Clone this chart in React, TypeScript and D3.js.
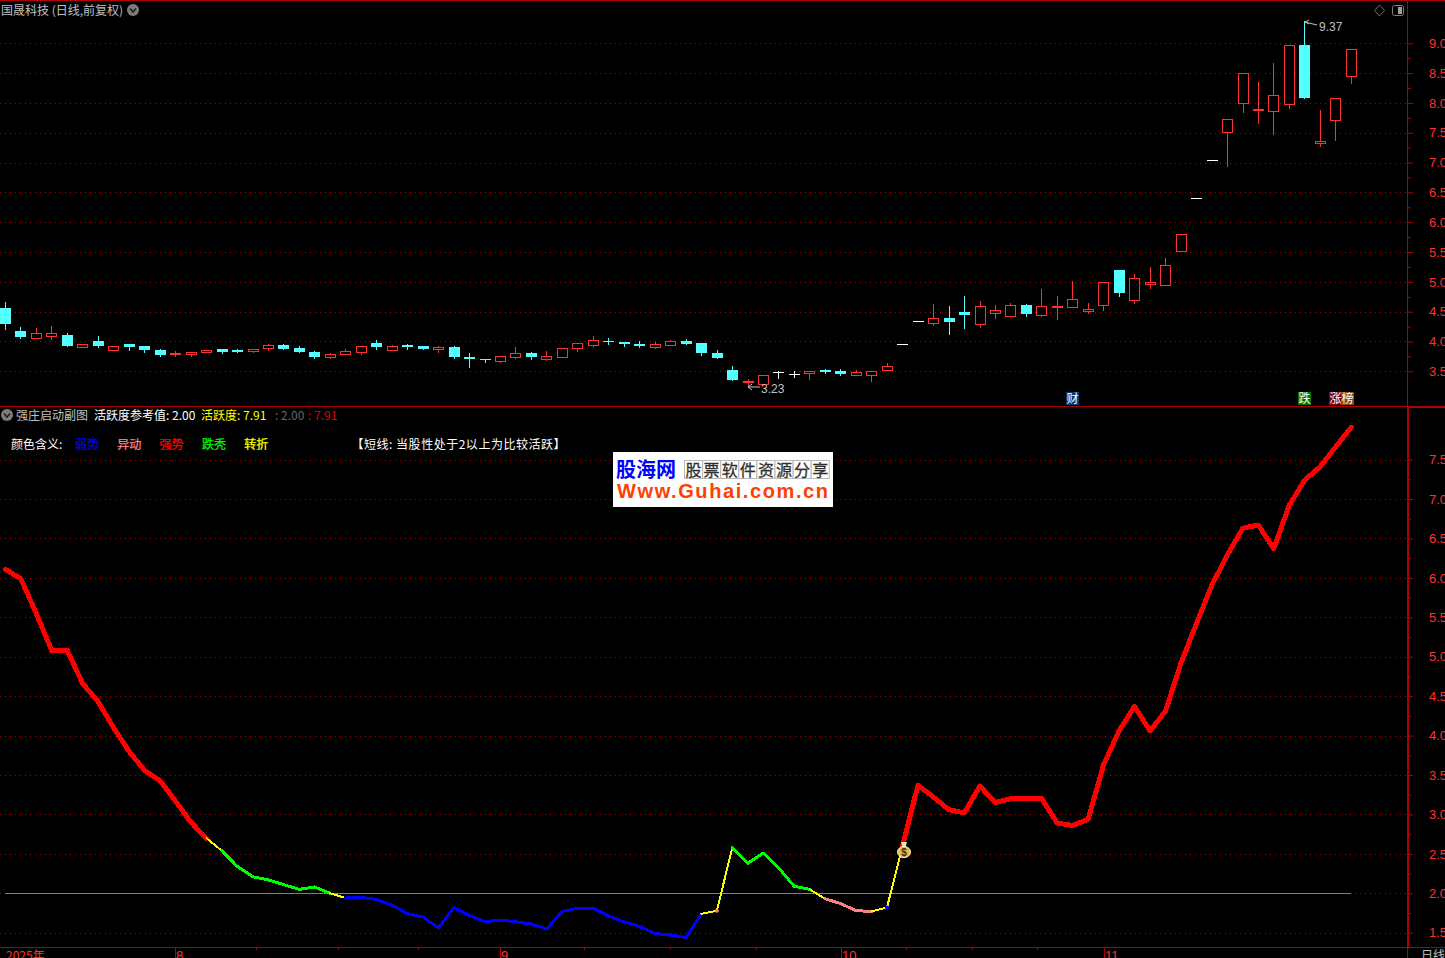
import { useEffect, useRef } from 'react';
import * as d3 from 'd3';

const opens = [
  4.56, 4.18, 4.06, 4.09, 4.11, 3.91, 4.01, 3.86, 3.96, 3.92,
  3.86, 3.80, 3.79, 3.82, 3.87, 3.86, 3.84, 3.89, 3.94, 3.89,
  3.82, 3.74, 3.79, 3.82, 3.97, 3.86, 3.94, 3.92, 3.87, 3.91,
  3.74, 3.70, 3.67, 3.74, 3.81, 3.71, 3.74, 3.89, 3.94, 4.00,
  3.99, 3.96, 3.91, 3.94, 4.01, 3.97, 3.81, 3.52, 3.33, 3.29,
  3.49, 3.46, 3.47, 3.52, 3.50, 3.44, 3.44, 3.52, 3.95, 4.34,
  4.31, 4.39, 4.49, 4.30, 4.47, 4.43, 4.61, 4.45, 4.58, 4.58,
  4.51, 4.62, 5.20, 4.70, 4.96, 4.95, 5.51, 6.41, 7.04, 7.51,
  8.00, 7.89, 7.86, 7.99, 8.97, 7.32, 7.71, 8.46,
];
const closes = [
  4.29, 4.08, 4.14, 4.14, 3.92, 3.96, 3.92, 3.92, 3.91, 3.86,
  3.77, 3.81, 3.82, 3.86, 3.82, 3.82, 3.87, 3.94, 3.87, 3.82,
  3.74, 3.79, 3.84, 3.92, 3.91, 3.92, 3.91, 3.87, 3.91, 3.74,
  3.71, 3.69, 3.76, 3.81, 3.74, 3.76, 3.89, 3.97, 4.02, 3.99,
  3.96, 3.92, 3.96, 4.01, 3.96, 3.81, 3.72, 3.36, 3.34, 3.44,
  3.49, 3.46, 3.50, 3.49, 3.45, 3.49, 3.50, 3.59, 3.95, 4.34,
  4.39, 4.33, 4.44, 4.59, 4.52, 4.61, 4.46, 4.59, 4.60, 4.71,
  4.54, 4.99, 4.81, 5.06, 5.00, 5.28, 5.81, 6.41, 7.04, 7.73,
  8.50, 7.90, 8.14, 8.97, 8.09, 7.36, 8.09, 8.90,
];
const highs = [
  4.66, 4.24, 4.23, 4.26, 4.14, 3.96, 4.09, 3.92, 3.96, 3.92,
  3.87, 3.84, 3.82, 3.86, 3.87, 3.87, 3.87, 3.96, 3.96, 3.92,
  3.84, 3.81, 3.87, 3.92, 4.02, 3.94, 3.96, 3.92, 3.92, 3.92,
  3.81, 3.70, 3.76, 3.91, 3.82, 3.84, 3.89, 3.97, 4.09, 4.06,
  3.99, 4.01, 3.99, 4.02, 4.04, 3.97, 3.86, 3.59, 3.37, 3.44,
  3.50, 3.50, 3.50, 3.54, 3.54, 3.52, 3.50, 3.64, 3.95, 4.34,
  4.63, 4.59, 4.76, 4.68, 4.61, 4.65, 4.63, 4.88, 4.76, 5.01,
  4.65, 4.99, 5.20, 5.13, 5.25, 5.40, 5.81, 6.41, 7.04, 7.73,
  8.50, 8.35, 8.67, 8.97, 9.37, 7.88, 8.09, 8.90,
];
const lows = [
  4.21, 4.06, 4.06, 4.04, 3.92, 3.91, 3.91, 3.86, 3.86, 3.82,
  3.76, 3.76, 3.76, 3.82, 3.81, 3.82, 3.82, 3.86, 3.87, 3.82,
  3.72, 3.72, 3.79, 3.79, 3.87, 3.86, 3.87, 3.87, 3.82, 3.72,
  3.57, 3.66, 3.66, 3.72, 3.71, 3.69, 3.74, 3.84, 3.92, 3.96,
  3.92, 3.91, 3.89, 3.94, 3.96, 3.77, 3.72, 3.36, 3.23, 3.29,
  3.39, 3.40, 3.37, 3.47, 3.44, 3.44, 3.34, 3.52, 3.95, 4.34,
  4.28, 4.13, 4.23, 4.24, 4.39, 4.43, 4.43, 4.43, 4.38, 4.58,
  4.48, 4.53, 4.76, 4.65, 4.90, 4.95, 5.51, 6.41, 7.04, 6.95,
  7.84, 7.67, 7.48, 7.92, 8.09, 7.27, 7.38, 8.33,
];

const activity = [
  6.11, 5.99, 5.55, 5.08, 5.08, 4.66, 4.43, 4.10, 3.80, 3.56,
  3.43, 3.17, 2.90, 2.70, 2.54, 2.34, 2.21, 2.17, 2.11, 2.05,
  2.08, 2.00, 1.94, 1.95, 1.92, 1.85, 1.74, 1.70, 1.56, 1.82,
  1.72, 1.64, 1.66, 1.64, 1.61, 1.55, 1.77, 1.81, 1.81, 1.71,
  1.64, 1.58, 1.49, 1.47, 1.44, 1.74, 1.78, 2.58, 2.38, 2.51,
  2.32, 2.09, 2.05, 1.93, 1.87, 1.78, 1.77, 1.82, 2.60, 3.37,
  3.22, 3.06, 3.02, 3.36, 3.15, 3.20, 3.20, 3.20, 2.89, 2.86,
  2.94, 3.63, 4.06, 4.37, 4.06, 4.31, 4.92, 5.42, 5.91, 6.29,
  6.63, 6.67, 6.37, 6.92, 7.24, 7.41, 7.66, 7.91,
];

// first point, last point, state
const lineRuns: Array<[number, number, string]> = [
  [0, 13, 'strong'], [13, 14, 'turn'], [14, 21, 'fall'], [21, 22, 'turn'],
  [22, 45, 'weak'], [45, 47, 'turn'], [47, 52, 'fall'], [52, 53, 'turn'],
  [53, 56, 'odd'], [56, 58, 'turn'], [58, 87, 'strong'],
];
const lineDots: Array<[number, string]> = [[46, 'odd'], [57, 'weak']];

const priceTicks = [3.5, 4, 4.5, 5, 5.5, 6, 6.5, 7, 7.5, 8, 8.5, 9];
const priceMinorTicks = [3.75, 4.25, 4.75, 5.25, 5.75, 6.25, 6.75, 7.25, 7.75, 8.25, 8.75];
const activityTicks = [1.5, 2, 2.5, 3, 3.5, 4, 4.5, 5, 5.5, 6, 6.5, 7, 7.5];
const activityMinorTicks = [1.75, 2.25, 2.75, 3.25, 3.75, 4.25, 4.75, 5.25, 5.75, 6.25, 6.75, 7.25];

const monthIndex = [11, 32, 54, 71];
const monthLabels = ['8', '9', '10', '11'];
const dateMinorIndex = [16.2, 21.5, 26.7, 37.4, 43, 48.5, 58.2, 62.5, 66.7];

const legendNames = ['弱势', '异动', '强势', '跌秃', '转折'];
const legendStates = ['weak', 'odd', 'strong', 'fall', 'turn'];
const shareWords = ['股', '票', '软', '件', '资', '源', '分', '享'];

const stateColor: Record<string, string> = {
  weak: '#0000ff', odd: '#ff8080', strong: '#ff0000', fall: '#00ff00', turn: '#ffff00',
};
const stateWidth: Record<string, number> = { weak: 3, odd: 3, strong: 5, fall: 3, turn: 2 };

const RED = '#ff3232';
const CYAN = '#54ffff';
const AXIS = '#b00000';
const GRID = '#b80000';
const CJK = '"Noto Sans CJK SC", "Liberation Sans", sans-serif';

export default function App() {
  const svgRef = useRef<SVGSVGElement>(null);

  useEffect(() => {
    document.body.style.margin = '0';
    document.body.style.background = '#000';
    if (!svgRef.current) return;

    const width = 1445;
    const height = 958;
    const axisX = 1408;

    const svg = d3.select(svgRef.current);
    svg.selectAll('*').remove();
    svg.append('rect').attr('width', width).attr('height', height).attr('fill', '#000');

    const x = d3.scaleLinear().domain([0, 87]).range([5.3, 1351.1]);
    const yPrice = d3.scaleLinear().domain([3.5, 9]).range([371.3, 43.3]);
    const yActivity = d3.scaleLinear().domain([2, 7.5]).range([893.3, 459.6]);

    const txt = (tx: number, ty: number, s: string, fill: string, size = 12, weight = 'normal') =>
      svg.append('text')
        .attr('x', tx).attr('y', ty)
        .attr('fill', fill)
        .attr('font-size', size)
        .attr('font-weight', weight)
        .attr('font-family', CJK)
        .attr('xml:space', 'preserve')
        .text(s);

    // grid lines
    const drawGrid = (ticks: number[], y: d3.ScaleLinear<number, number>) => {
      svg.append('g').selectAll('line').data(ticks).enter().append('line')
        .attr('x1', 0).attr('x2', axisX)
        .attr('y1', d => Math.round(y(d)) + 0.5)
        .attr('y2', d => Math.round(y(d)) + 0.5)
        .attr('stroke', GRID)
        .attr('stroke-dasharray', '1 4');
    };
    drawGrid(priceTicks, yPrice);
    drawGrid(activityTicks, yActivity);

    // right axes
    const drawAxis = (ticks: number[], minor: number[], y: d3.ScaleLinear<number, number>) => {
      svg.append('g')
        .attr('transform', `translate(${axisX},0)`)
        .call(d3.axisRight(y).tickValues(minor).tickSize(3).tickFormat(() => ''))
        .call(g => g.select('.domain').remove())
        .call(g => g.selectAll('.tick line').attr('stroke', AXIS));
      svg.append('g')
        .attr('transform', `translate(${axisX},0)`)
        .call(d3.axisRight(y).tickValues(ticks).tickSize(5).tickPadding(16).tickFormat(d3.format('.1f') as any))
        .call(g => g.select('.domain').remove())
        .call(g => g.selectAll('.tick line').attr('stroke', AXIS))
        .call(g => g.selectAll('.tick text')
          .attr('fill', RED)
          .attr('font-size', 13)
          .attr('font-family', '"Liberation Sans", sans-serif'));
    };
    drawAxis(priceTicks, priceMinorTicks, yPrice);
    drawAxis(activityTicks, activityMinorTicks, yActivity);

    // frame
    const frame = svg.append('g').attr('stroke', AXIS).attr('shape-rendering', 'crispEdges');
    frame.append('line').attr('x1', 0).attr('x2', width).attr('y1', 0.5).attr('y2', 0.5);
    frame.append('line').attr('x1', 0).attr('x2', width).attr('y1', 406.5).attr('y2', 406.5);
    frame.append('line').attr('x1', axisX).attr('x2', width).attr('y1', 407.5).attr('y2', 407.5);
    frame.append('line').attr('x1', 0).attr('x2', width).attr('y1', 947.5).attr('y2', 947.5);
    frame.append('line').attr('x1', 1407.5).attr('x2', 1407.5).attr('y1', 0).attr('y2', height);
    frame.append('line').attr('x1', 1408.5).attr('x2', 1408.5).attr('y1', 407).attr('y2', 947);

    // candles
    const candles = svg.append('g').attr('shape-rendering', 'crispEdges');
    opens.forEach((open, i) => {
      const close = closes[i];
      const left = Math.round(x(i) - 5.3);
      const mid = left + 5.5;
      const color = close === open ? '#ffffff' : close > open ? RED : CYAN;
      const top = Math.round(yPrice(Math.max(open, close)));
      const bottom = Math.round(yPrice(Math.min(open, close)));
      candles.append('line')
        .attr('x1', mid).attr('x2', mid)
        .attr('y1', Math.round(yPrice(highs[i]))).attr('y2', Math.round(yPrice(lows[i])) + 1)
        .attr('stroke', color);
      if (close === open) {
        candles.append('line')
          .attr('x1', left).attr('x2', left + 11)
          .attr('y1', top + 0.5).attr('y2', top + 0.5)
          .attr('stroke', color);
      } else if (close > open) {
        candles.append('rect')
          .attr('x', left + 0.5).attr('y', top + 0.5)
          .attr('width', 10).attr('height', Math.max(bottom - top, 1))
          .attr('fill', '#000').attr('stroke', color);
      } else {
        candles.append('rect')
          .attr('x', left).attr('y', top)
          .attr('width', 11).attr('height', Math.max(bottom - top, 1))
          .attr('fill', color);
      }
    });

    // high / low notes
    const note = svg.append('g').attr('stroke', '#c0c0c0').attr('fill', 'none');
    note.append('path').attr('d', 'M1305 22 L1309 20 M1305 22 L1309 24 M1305 22 L1317 25');
    txt(1319, 31, '9.37', '#c0c0c0', 12).attr('font-family', '"Liberation Sans", sans-serif');
    note.append('path').attr('d', 'M748 387 L752 384 M748 387 L752 390 M748 387 L760 387');
    txt(761, 393, '3.23', '#c0c0c0', 12).attr('font-family', '"Liberation Sans", sans-serif');

    // event tags
    const tag = (tx: number, s: string, fill: string) => {
      svg.append('rect').attr('x', tx).attr('y', 392).attr('width', 13).attr('height', 13).attr('fill', fill);
      txt(tx + 0.5, 403, s, '#ffffff', 12);
    };
    tag(1066, '财', '#003c78');
    tag(1298, '跌', '#007800');
    tag(1329, '涨', '#800000');
    tag(1341, '榜', '#8b4a10');

    // reference line
    svg.append('line')
      .attr('x1', x(0)).attr('x2', x(87))
      .attr('y1', Math.round(yActivity(2)) + 0.5).attr('y2', Math.round(yActivity(2)) + 0.5)
      .attr('stroke', '#808080');

    // activity line, one path per colour run
    const line = d3.line<number>()
      .x(d => x(d))
      .y(d => yActivity(activity[d]));
    lineRuns.forEach(([from, to, state]) => {
      svg.append('path')
        .attr('d', line(d3.range(from, to + 1)))
        .attr('fill', 'none')
        .attr('stroke', stateColor[state])
        .attr('stroke-width', stateWidth[state])
        .attr('stroke-linejoin', 'round')
        .attr('stroke-linecap', 'round')
        .attr('shape-rendering', 'crispEdges');
    });
    lineDots.forEach(([i, state]) => {
      svg.append('circle')
        .attr('cx', x(i)).attr('cy', yActivity(activity[i])).attr('r', 2)
        .attr('fill', stateColor[state]);
    });

    // money bag
    const bag = svg.append('g').attr('transform', 'translate(904,852)');
    bag.append('path').attr('d', 'M-3 -10 L3 -10 L1.5 -5 L-1.5 -5 Z').attr('fill', '#f4e6b0');
    bag.append('ellipse').attr('rx', 6.5).attr('ry', 5.6)
      .attr('fill', '#e8b850').attr('stroke', '#fff4c8');
    bag.append('text').attr('y', 3.5).attr('text-anchor', 'middle')
      .attr('font-size', 10).attr('font-weight', 'bold')
      .attr('font-family', '"Liberation Sans", sans-serif')
      .attr('fill', '#4a2a08').text('$');

    // header, upper pane
    const chevron = (cx: number, cy: number) => {
      svg.append('circle').attr('cx', cx).attr('cy', cy).attr('r', 6).attr('fill', '#7c7c7c');
      svg.append('path')
        .attr('d', `M${cx - 3} ${cy - 1.5} L${cx} ${cy + 2} L${cx + 3} ${cy - 1.5}`)
        .attr('fill', 'none').attr('stroke', '#1c1c1c').attr('stroke-width', 1.5);
    };
    txt(1, 14.5, '国晟科技 (日线,前复权)', '#c0c0c0', 12);
    chevron(133, 10);
    svg.append('path')
      .attr('d', 'M1379.5 5 L1384.5 10.5 L1379.5 16 L1374.5 10.5 Z')
      .attr('fill', 'none').attr('stroke', '#707070');
    svg.append('rect').attr('x', 1392.5).attr('y', 5.5).attr('width', 11).attr('height', 10).attr('rx', 2)
      .attr('fill', '#000').attr('stroke', '#808080');
    svg.append('rect').attr('x', 1398).attr('y', 7).attr('width', 4).attr('height', 7).attr('fill', '#a0a0a0');

    // header, lower pane
    chevron(7, 415);
    txt(16, 419.5, '强庄启动副图', '#c0c0c0', 12);
    txt(94, 419.5, '活跃度参考值: 2.00', '#ffffff', 12);
    txt(201, 419.5, '活跃度: 7.91', '#ffff00', 12);
    txt(275, 419.5, ': 2.00', '#666666', 12);
    txt(308, 419.5, ': 7.91', '#e00000', 12);

    // colour legend
    txt(11, 448.5, '颜色含义:', '#ffffff', 12);
    legendNames.forEach((name, i) => {
      const color = stateColor[legendStates[i]];
      txt(75 + i * 42.3, 448.5, name, color, 12).attr('stroke', color).attr('stroke-width', 0.25);
    });
    txt(351.5, 448.5, '【短线: 当股性处于2以上为比较活跃】', '#ffffff', 12)
      .attr('textLength', 214).attr('lengthAdjust', 'spacing');

    // watermark
    const mark = svg.append('g');
    mark.append('rect').attr('x', 613).attr('y', 452).attr('width', 220).attr('height', 55).attr('fill', '#ffffff');
    mark.append('text').attr('x', 616).attr('y', 477)
      .attr('font-size', 20).attr('font-weight', 'bold').attr('font-family', CJK)
      .attr('fill', '#0000ff').text('股海网');
    shareWords.forEach((w, i) => {
      const cx = 684 + i * 18.1;
      mark.append('rect').attr('x', cx + 0.5).attr('y', 460.5).attr('width', 18).attr('height', 18)
        .attr('fill', '#fff').attr('stroke', '#b8b8b8');
      mark.append('text').attr('x', cx + 9.5).attr('y', 475.5)
        .attr('text-anchor', 'middle').attr('font-size', 16).attr('font-family', CJK)
        .attr('fill', '#303030').attr('stroke', '#303030').attr('stroke-width', 0.3).text(w);
    });
    mark.append('text').attr('x', 617).attr('y', 498)
      .attr('font-size', 20).attr('font-weight', 'bold')
      .attr('font-family', '"Liberation Sans", sans-serif')
      .attr('letter-spacing', 1.6)
      .attr('fill', '#ff4000').text('Www.Guhai.com.cn');

    // date axis
    const dates = svg.append('g').attr('shape-rendering', 'crispEdges');
    dates.selectAll('.major').data(monthIndex).enter().append('line')
      .attr('class', 'major')
      .attr('x1', d => Math.round(x(d)) + 0.5).attr('x2', d => Math.round(x(d)) + 0.5)
      .attr('y1', 948).attr('y2', height)
      .attr('stroke', AXIS);
    dates.selectAll('.minor').data(dateMinorIndex).enter().append('line')
      .attr('class', 'minor')
      .attr('x1', d => Math.round(x(d)) + 0.5).attr('x2', d => Math.round(x(d)) + 0.5)
      .attr('y1', 948).attr('y2', 950)
      .attr('stroke', AXIS);
    monthIndex.forEach((d, i) => {
      txt(Math.round(x(d)) + 1, 960, monthLabels[i], RED, 13)
        .attr('font-family', '"Liberation Sans", sans-serif');
    });
    txt(6, 959.5, '2025年', RED, 12);
    txt(1421, 960, '日线', '#c0c0c0', 12);
  }, []);

  return (
    <svg
      ref={svgRef}
      width={1445}
      height={958}
      style={{ position: 'fixed', left: 0, top: 0, display: 'block' }}
    />
  );
}
